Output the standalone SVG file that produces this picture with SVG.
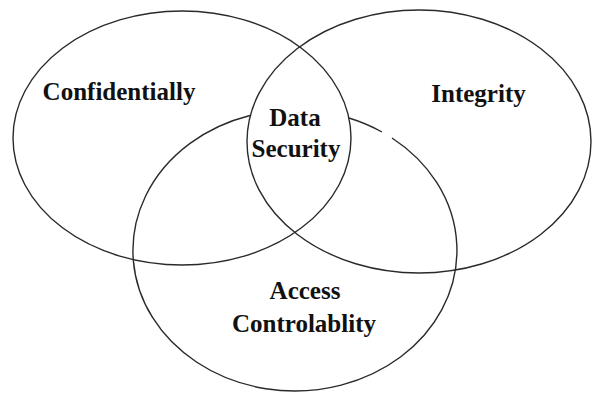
<svg xmlns="http://www.w3.org/2000/svg" width="594" height="393" viewBox="0 0 594 393">
<style>
.c{fill:none;stroke:#2a2a2a;stroke-width:1.4}
.t{font-family:Times New Roman,Liberation Serif,DejaVu Serif,serif;font-weight:700;font-size:25px;fill:#111;text-anchor:middle}
</style>
<rect width="594" height="393" fill="#ffffff"/>
<g id="connectors">
</g>
<g id="confidentially">
<ellipse class="c" cx="182" cy="138" rx="169" ry="127"/>
<text class="t" x="119" y="100">Confidentially</text>
</g>
<g id="integrity">
<ellipse class="c" cx="419" cy="141.5" rx="172" ry="131.5"/>
<text class="t" x="478.5" y="102">Integrity</text>
</g>
<g id="access">
<path class="c" d="M250,115.5 A162,140.5 0 1,0 392,138 M382,132 A162,140.5 0 0,0 349,118"/>
<text class="t" x="305" y="299">Access</text>
<text class="t" x="304" y="332">Controlablity</text>
</g>
<g id="data-security">
<text class="t" x="295" y="126">Data</text>
<text class="t" x="296" y="157">Security</text>
</g>
</svg>
